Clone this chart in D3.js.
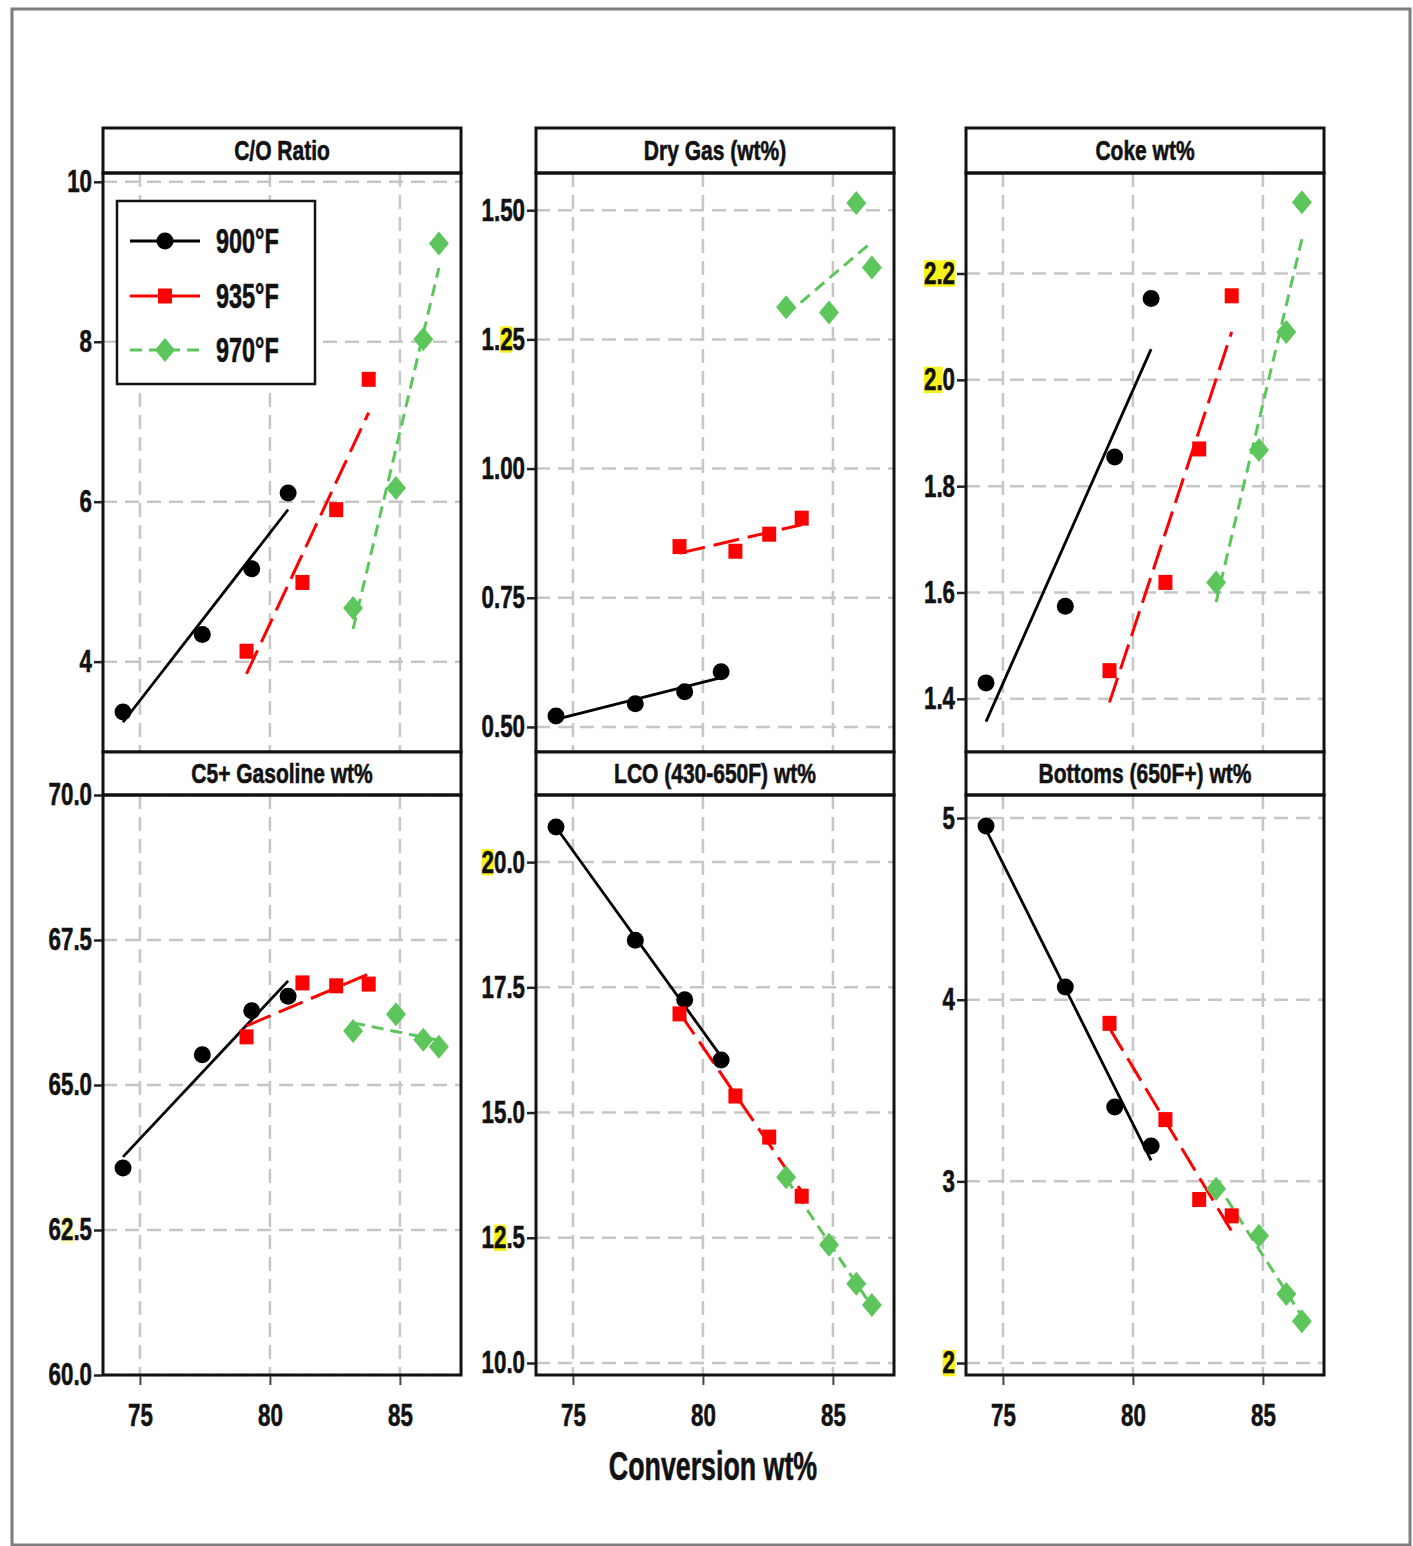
<!DOCTYPE html>
<html><head><meta charset="utf-8">
<script src="https://cdn.jsdelivr.net/npm/d3@7"></script>
<style>
html,body{margin:0;padding:0;background:#fff;}
svg text{font-family:"Liberation Sans",Arial,sans-serif;font-weight:700;fill:#111;stroke:#111;stroke-width:0.6px;}
</style></head><body><svg id="c" width="1413" height="1546"></svg>
<script>
// ---------------- DATA ----------------
const seriesNames = ["900°F", "935°F", "970°F"];
const panelTitles = ["C/O Ratio", "Dry Gas (wt%)", "Coke wt%", "C5+ Gasoline wt%", "LCO (430-650F) wt%", "Bottoms (650F+) wt%"];
const xTitle = "Conversion wt%";
const xTicks = [75, 80, 85];
const xTickLabels = ["75", "80", "85"];

// conversion (x) for each temperature series
const conv900 = [74.35, 77.4, 79.3, 80.7];
const conv935 = [79.1, 81.25, 82.55, 83.8];
const conv970 = [83.2, 84.85, 85.9, 86.5];

// C/O Ratio
const co900 = [3.37, 4.34, 5.16, 6.11];
const co935 = [4.13, 4.99, 5.90, 7.53];
const co970 = [4.67, 6.17, 8.03, 9.23];
const coTicks = [4, 6, 8, 10];
const coLabels = ["4", "6", "8", "10"];

// Dry Gas (wt%)
const gas900 = [0.521, 0.545, 0.568, 0.607];
const gas935 = [0.849, 0.840, 0.873, 0.904];
const gas970 = [1.312, 1.302, 1.514, 1.389];
const gasTicks = [0.50, 0.75, 1.00, 1.25, 1.50];
const gasLabels = ["0.50", "0.75", "1.00", "1.25", "1.50"];

// Coke wt%
const coke900 = [1.43, 1.574, 1.855, 2.153];
const coke935 = [1.453, 1.619, 1.87, 2.158];
const coke970 = [1.619, 1.868, 2.09, 2.334];
const cokeTicks = [1.4, 1.6, 1.8, 2.0, 2.2];
const cokeLabels = ["1.4", "1.6", "1.8", "2.0", "2.2"];

// C5+ Gasoline wt%
const gaso900 = [63.57, 65.52, 66.28, 66.53];
const gaso935 = [65.83, 66.76, 66.71, 66.74];
const gaso970 = [65.93, 66.22, 65.78, 65.66];
const gasoTicks = [60.0, 62.5, 65.0, 67.5, 70.0];
const gasoLabels = ["60.0", "62.5", "65.0", "67.5", "70.0"];

// LCO (430-650F) wt%
const lco900 = [20.70, 18.44, 17.25, 16.05];
const lco935 = [16.97, 15.33, 14.51, 13.33];
const lco970 = [13.71, 12.36, 11.58, 11.16];
const lcoTicks = [10.0, 12.5, 15.0, 17.5, 20.0];
const lcoLabels = ["10.0", "12.5", "15.0", "17.5", "20.0"];

// Bottoms (650F+) wt%
const bot900 = [4.956, 4.07, 3.41, 3.195];
const bot935 = [3.87, 3.34, 2.90, 2.81];
const bot970 = [2.96, 2.70, 2.38, 2.23];
const botTicks = [2, 3, 4, 5];
const botLabels = ["2", "3", "4", "5"];

// ---------------- CONFIG ----------------
const xDomain = [73.58, 87.35];
const yDomains = [[2.87, 10.11], [0.4515, 1.572], [1.30, 2.389], [60, 70], [9.76, 21.34], [1.934, 5.127]];
const convs = [conv900, conv935, conv970];
const panels = [
  { title: panelTitles[0], vals: [co900, co935, co970], ticks: coTicks, labels: coLabels },
  { title: panelTitles[1], vals: [gas900, gas935, gas970], ticks: gasTicks, labels: gasLabels },
  { title: panelTitles[2], vals: [coke900, coke935, coke970], ticks: cokeTicks, labels: cokeLabels },
  { title: panelTitles[3], vals: [gaso900, gaso935, gaso970], ticks: gasoTicks, labels: gasoLabels },
  { title: panelTitles[4], vals: [lco900, lco935, lco970], ticks: lcoTicks, labels: lcoLabels },
  { title: panelTitles[5], vals: [bot900, bot935, bot970], ticks: botTicks, labels: botLabels }
];
// yellow highlight artefacts on some tick labels: [panel, label, startChar, count, opacity]
const highlights = [[1, "1.25", 2, 1, 1], [2, "2.2", 0, 3, 1], [2, "2.0", 0, 2, 1], [3, "62.5", 1, 1, 0.35],
                    [4, "20.0", 0, 1, 1], [4, "12.5", 1, 1, 1], [5, "2", 0, 1, 1]];

const colLeft = [103, 536, 966], panelW = 358;
const rows = [{ hTop: 128, hBot: 173, pBot: 752 }, { hTop: 752, hBot: 795, pBot: 1375 }];
const styles = [
  { color: "#000000", dash: null, width: 2.8 },
  { color: "#ff0000", dash: "26,9", width: 3 },
  { color: "#5cc65c", dash: "12,7", width: 3 }
];
const gridColor = "#c6c6c6";
const TICK_FS = 31, TICK_SX = 0.72;
const HEAD_FS = 28, HEAD_SX = 0.75;
const LEG_FS = 35, LEG_SX = 0.67;
const TITLE_FS = 40, TITLE_SX = 0.67;

const svg = d3.select("#c");
svg.append("rect").attr("x", 12).attr("y", 9).attr("width", 1398).attr("height", 1536)
  .attr("fill", "#fff").attr("stroke", "#7d7d7d").attr("stroke-width", 3);

function ctext(parent, x, y, fs, sx, anchor, str) {
  return parent.append("text").attr("transform", `translate(${x},${y}) scale(${sx},1)`)
    .attr("dy", "0.35em").attr("text-anchor", anchor).attr("font-size", fs).text(str);
}

function marker(g, i, x, y) {
  const c = styles[i].color;
  if (i === 0) g.append("circle").attr("cx", x).attr("cy", y).attr("r", 8.5).attr("fill", c);
  else if (i === 1) g.append("rect").attr("x", x - 7).attr("y", y - 7.5).attr("width", 14).attr("height", 15).attr("fill", c);
  else g.append("path").attr("d", `M${x},${y - 12}L${x + 10},${y}L${x},${y + 12}L${x - 10},${y}Z`).attr("fill", c);
}

function linfit(xs, ys) {
  const mx = d3.mean(xs), my = d3.mean(ys);
  const sxy = d3.sum(xs, (x, k) => (x - mx) * (ys[k] - my));
  const sxx = d3.sum(xs, x => (x - mx) * (x - mx));
  const b = sxy / sxx;
  return x => my + b * (x - mx);
}

panels.forEach((p, pi) => {
  const col = pi % 3, row = Math.floor(pi / 3);
  const L = colLeft[col], R = L + panelW, r = rows[row];
  const x = d3.scaleLinear().domain(xDomain).range([L, R]);
  const y = d3.scaleLinear().domain(yDomains[pi]).range([r.pBot, r.hBot]);
  const g = svg.append("g");

  // grid
  g.selectAll(".hg").data(p.ticks).join("line")
    .attr("x1", L).attr("x2", R).attr("y1", d => y(d)).attr("y2", d => y(d))
    .attr("stroke", gridColor).attr("stroke-width", 2.5).attr("stroke-dasharray", "14,8");
  g.selectAll(".vg").data(xTicks).join("line")
    .attr("x1", d => x(d)).attr("x2", d => x(d)).attr("y1", r.hBot).attr("y2", r.pBot)
    .attr("stroke", gridColor).attr("stroke-width", 2.5).attr("stroke-dasharray", "14,8");

  // fitted lines
  p.vals.forEach((vals, si) => {
    const xs = convs[si];
    const f = linfit(xs, vals);
    const ext = d3.extent(xs);
    g.append("path")
      .attr("d", d3.line().x(d => x(d)).y(d => y(f(d)))(ext))
      .attr("fill", "none").attr("stroke", styles[si].color).attr("stroke-width", styles[si].width)
      .attr("stroke-dasharray", styles[si].dash);
  });
  // markers
  p.vals.forEach((vals, si) => {
    vals.forEach((v, k) => marker(g, si, x(convs[si][k]), y(v)));
  });

  // header
  g.append("rect").attr("x", L).attr("y", r.hTop).attr("width", panelW).attr("height", r.hBot - r.hTop)
    .attr("fill", "#fff").attr("stroke", "#111").attr("stroke-width", 3);
  ctext(g, (L + R) / 2, (r.hTop + r.hBot) / 2, HEAD_FS, HEAD_SX, "middle", p.title);
  // frame
  g.append("rect").attr("x", L).attr("y", r.hBot).attr("width", panelW).attr("height", r.pBot - r.hBot)
    .attr("fill", "none").attr("stroke", "#111").attr("stroke-width", 3);

  // y axis
  const ya = g.append("g").attr("transform", `translate(${L - 1},0)`)
    .call(d3.axisLeft(y).tickValues(p.ticks).tickFormat((d, k) => p.labels[k]).tickSize(8).tickPadding(3));
  ya.select(".domain").remove();
  ya.selectAll(".tick line").attr("stroke", "#222").attr("stroke-width", 2.5);
  ya.selectAll(".tick text").attr("font-size", TICK_FS).attr("fill", "#111").attr("font-family", null)
    .attr("x", 0).attr("transform", `translate(-10,0) scale(${TICK_SX},1)`);

  // x axis (bottom row only)
  if (row === 1) {
    const xa = g.append("g").attr("transform", `translate(0,${r.pBot + 1})`)
      .call(d3.axisBottom(x).tickValues(xTicks).tickFormat((d, k) => xTickLabels[k]).tickSize(9).tickPadding(12));
    xa.select(".domain").remove();
    xa.selectAll(".tick line").attr("stroke", "#444").attr("stroke-width", 2);
    xa.selectAll(".tick text").attr("font-size", TICK_FS).attr("fill", "#111").attr("font-family", null)
      .attr("y", 0).attr("transform", `translate(0,28) scale(${TICK_SX},1)`);
  }

  // highlights
  highlights.filter(h => h[0] === pi).forEach(h => {
    ya.selectAll(".tick text").filter(function () { return this.textContent === h[1]; }).each(function () {
      const bb = this.getBBox();
      const x0 = this.getStartPositionOfChar(h[2]).x;
      const w = this.getSubStringLength(h[2], h[3]);
      d3.select(this.parentNode).insert("rect", "text").attr("transform", this.getAttribute("transform"))
        .attr("x", x0).attr("y", bb.y + 4)
        .attr("width", w).attr("height", bb.height - 8).attr("fill", "#f7f21c").attr("opacity", h[4]);
    });
  });
});

// x title
ctext(svg, 713, 1466, TITLE_FS, TITLE_SX, "middle", xTitle);

// legend
const lg = svg.append("g");
lg.append("rect").attr("x", 117).attr("y", 201).attr("width", 198).attr("height", 183)
  .attr("fill", "#fff").attr("stroke", "#111").attr("stroke-width", 2.5);
const legY = [241, 296, 350];
seriesNames.forEach((s, i) => {
  lg.append("line").attr("x1", 130).attr("x2", 200).attr("y1", legY[i]).attr("y2", legY[i])
    .attr("stroke", styles[i].color).attr("stroke-width", styles[i].width)
    .attr("stroke-dasharray", i === 2 ? "12,7" : null);
  marker(lg, i, 165, legY[i]);
  ctext(lg, 216, legY[i], LEG_FS, LEG_SX, "start", s);
});
</script></body></html>
